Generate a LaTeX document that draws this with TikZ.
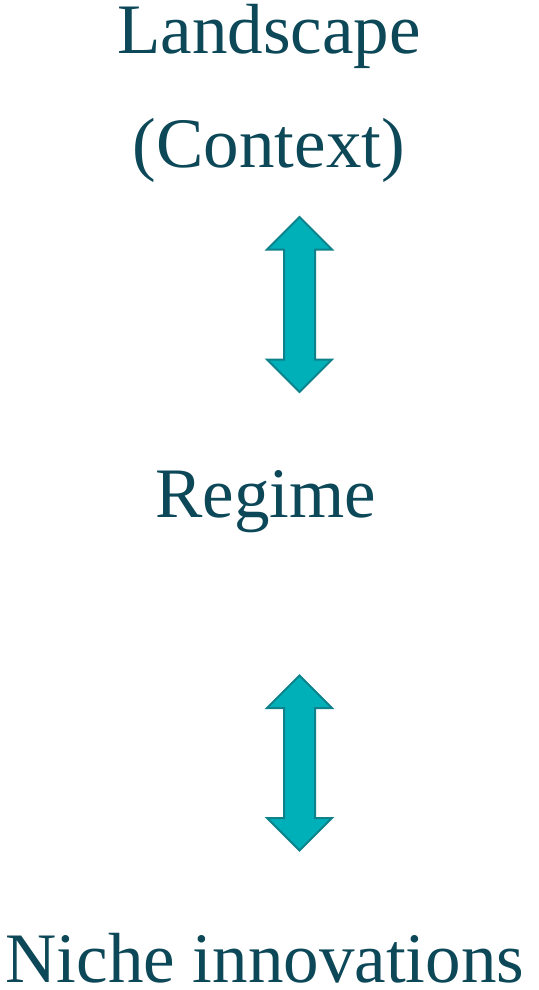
\documentclass[tikz,border=0pt]{standalone}
\usepackage{fontspec}
\setmainfont{Liberation Serif}
\usepackage{xcolor}
\usepackage{tikz}
\usetikzlibrary{shapes.arrows, positioning}

\definecolor{levelink}{RGB}{12,72,88}
\definecolor{arrowfill}{RGB}{0,176,185}
\definecolor{arrowline}{RGB}{14,130,138}

\tikzset{
    level/.style={text=levelink, anchor=base, inner sep=0pt, font=\fontsize{71}{85}\selectfont},
    link/.style={double arrow, rotate=90, draw=arrowline, fill=arrowfill, line width=2pt,
        minimum height=175pt, inner xsep=0pt, inner ysep=14.5pt,
        double arrow head extend=17pt}
}

\begin{document}
\begin{tikzpicture}[x=1pt, y=-1pt]
    \useasboundingbox (0,0) rectangle (538,990);

    % Livelli
    \node[level] (landscape) at (269,54) {Landscape};
    \node[level] (context) at (269,167) {(Context)};
    \node[level] (regime) at (266,517) {Regime};
    \node[level] (niche) at (265,982) {Niche innovations};

    % Frecce doppie tra i livelli
    \node[link] (arrowtop) at (299.5,304.5) {};
    \node[link] (arrowbottom) at (299.5,763) {};

\end{tikzpicture}
\end{document}
